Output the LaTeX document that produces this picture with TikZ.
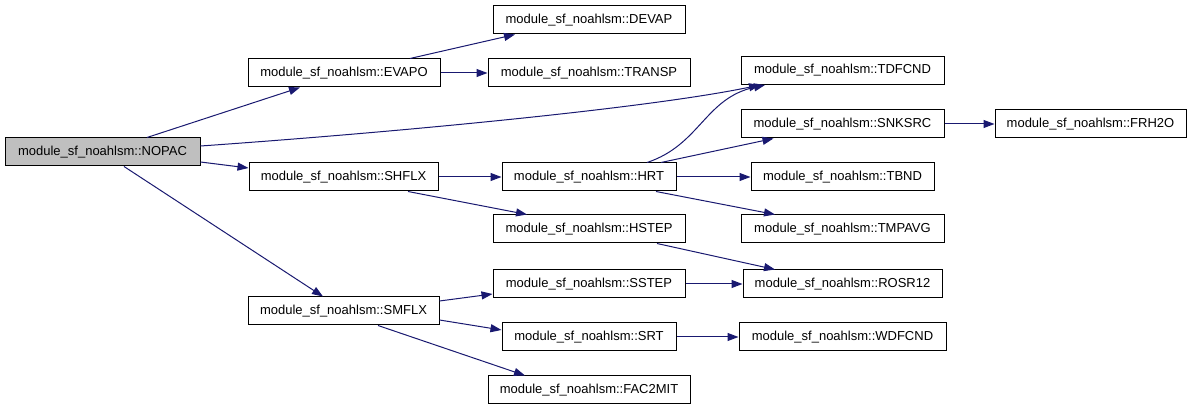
\documentclass[tikz,border=0pt]{standalone}
\usepackage{fontspec}
\setmainfont{Liberation Sans}
\usetikzlibrary{arrows.meta}
\definecolor{edgeblue}{RGB}{25,25,112}
\begin{document}
\begin{tikzpicture}[x=1pt,y=-1pt,
  fn/.style={draw=black,line width=1pt,fill=white,minimum height=28pt,inner sep=0pt,font=\fontsize{13}{15}\selectfont},
  root/.style={fn,fill=black!25},
  call/.style={draw=edgeblue,line width=1pt,-{Triangle[length=11pt,width=8pt]}}]
\useasboundingbox (0,0) rectangle (1192,411);
\node[root,minimum width=195pt] (nopac) at (102.5,152) {module\_sf\_noahlsm::NOPAC};
\node[fn,minimum width=192pt] (evapo) at (344,73) {module\_sf\_noahlsm::EVAPO};
\node[fn,minimum width=192pt] (devap) at (589,20) {module\_sf\_noahlsm::DEVAP};
\node[fn,minimum width=202pt] (transp) at (589,73) {module\_sf\_noahlsm::TRANSP};
\node[fn,minimum width=203pt] (tdfcnd) at (842.5,70.5) {module\_sf\_noahlsm::TDFCND};
\node[fn,minimum width=203pt] (snksrc) at (842.5,124) {module\_sf\_noahlsm::SNKSRC};
\node[fn,minimum width=191pt] (frh2o) at (1090.5,124) {module\_sf\_noahlsm::FRH2O};
\node[fn,minimum width=189pt] (shflx) at (343.5,177) {module\_sf\_noahlsm::SHFLX};
\node[fn,minimum width=174pt] (hrt) at (589,177) {module\_sf\_noahlsm::HRT};
\node[fn,minimum width=183pt] (tbnd) at (842.5,177) {module\_sf\_noahlsm::TBND};
\node[fn,minimum width=192pt] (hstep) at (589,229) {module\_sf\_noahlsm::HSTEP};
\node[fn,minimum width=203pt] (tmpavg) at (842.5,229) {module\_sf\_noahlsm::TMPAVG};
\node[fn,minimum width=192pt] (sstep) at (589,284) {module\_sf\_noahlsm::SSTEP};
\node[fn,minimum width=199pt] (rosr12) at (842.5,284) {module\_sf\_noahlsm::ROSR12};
\node[fn,minimum width=191pt] (smflx) at (343.5,311) {module\_sf\_noahlsm::SMFLX};
\node[fn,minimum width=174pt] (srt) at (589,337) {module\_sf\_noahlsm::SRT};
\node[fn,minimum width=207pt] (wdfcnd) at (842.5,337) {module\_sf\_noahlsm::WDFCND};
\node[fn,minimum width=202pt] (fac2mit) at (589,390) {module\_sf\_noahlsm::FAC2MIT};

\draw[call] ([xshift=44.5pt]nopac.north) -- ([xshift=-44pt]evapo.south);
\draw[call] ([yshift=6pt]nopac.east) .. controls (400,132) and (650,108) .. ([xshift=-82.5pt]tdfcnd.south);
\draw[call] ([yshift=-10pt]nopac.east) -- ([yshift=9pt]shflx.west);
\draw[call] ([xshift=21.5pt]nopac.south) -- ([xshift=-20.5pt]smflx.north);
\draw[call] ([xshift=66pt]evapo.north) -- ([xshift=-74pt]devap.south);
\draw[call] (evapo.east) -- (transp.west);
\draw[call] (shflx.east) -- (hrt.west);
\draw[call] ([xshift=64.5pt]shflx.south) -- ([xshift=-62pt]hstep.north);
\draw[call] ([xshift=58pt]hrt.north) .. controls (700,145) and (705,98) .. ([xshift=-77.5pt]tdfcnd.south);
\draw[call] ([xshift=72pt]hrt.north) -- ([xshift=-69pt]snksrc.south);
\draw[call] (hrt.east) -- (tbnd.west);
\draw[call] ([xshift=67pt]hrt.south) -- ([xshift=-67.5pt]tmpavg.north);
\draw[call] (snksrc.east) -- (frh2o.west);
\draw[call] ([xshift=68pt]hstep.south) -- ([xshift=-67.5pt]rosr12.north);
\draw[call] (sstep.east) -- (rosr12.west);
\draw[call] ([yshift=10pt]smflx.east) -- ([yshift=-10pt]sstep.west);
\draw[call] ([yshift=-9pt]smflx.east) -- ([yshift=7pt]srt.west);
\draw[call] ([xshift=34.5pt]smflx.south) -- ([xshift=-64pt]fac2mit.north);
\draw[call] (srt.east) -- (wdfcnd.west);
\end{tikzpicture}
\end{document}
